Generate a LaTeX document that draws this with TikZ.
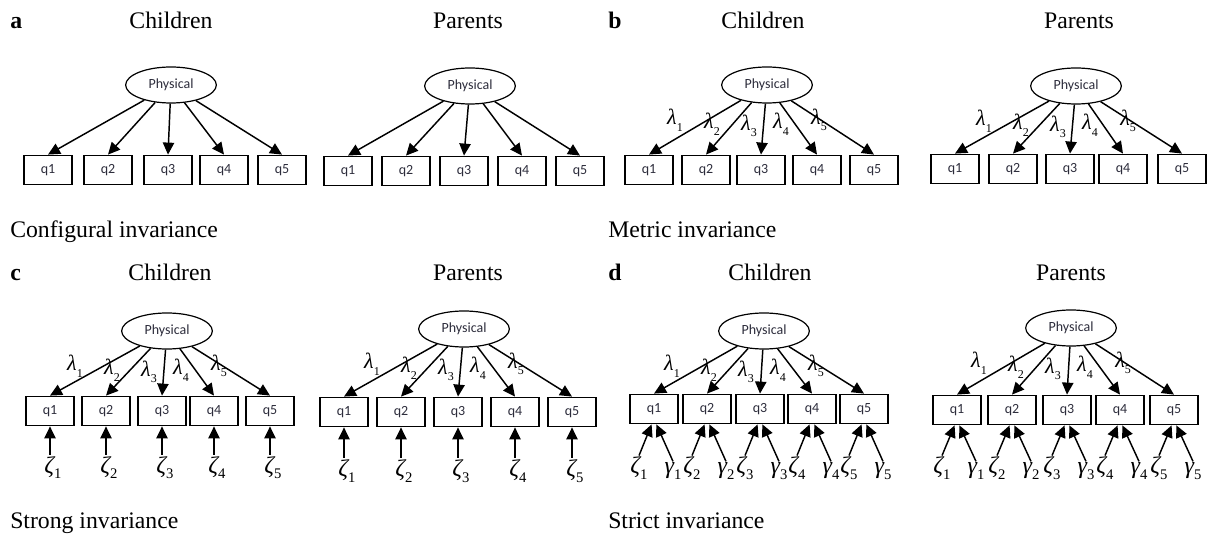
\documentclass[tikz,border=0pt]{standalone}
\usepackage{fontspec}
\setmainfont{Liberation Serif}
\newfontfamily\calibri{Carlito}
\usepackage{tikz}
\usetikzlibrary{arrows.meta,positioning,shapes.geometric}
\definecolor{inktext}{RGB}{45,45,60}
\newcommand{\lsub}[1]{\raisebox{-0.3em}{\fontsize{9}{9}\selectfont\upshape #1}}
\newcommand{\gsub}[1]{\raisebox{-0.25em}{\fontsize{11}{11}\selectfont\upshape #1}}

\begin{document}
\begin{tikzpicture}[x=0.75pt, y=-0.75pt,
  latent/.style={draw, ellipse, line width=0.9pt, minimum width=68pt, minimum height=27pt,
    inner sep=0pt, text=inktext, font=\calibri\fontsize{10.5}{11}\selectfont},
  item/.style={draw, line width=1.1pt, minimum width=36pt, minimum height=22pt,
    inner sep=0pt, text=inktext, font=\calibri\fontsize{10.5}{11}\selectfont},
  load/.style={-{Triangle[length=9pt,width=8.5pt]}, line width=1.1pt},
  loadlbl/.style={inner sep=0pt, font=\itshape\fontsize{16.5}{16}\selectfont},
  errlbl/.style={inner sep=1pt, anchor=base, font=\itshape\fontsize{18}{18}\selectfont},
  grouplbl/.style={anchor=base, font=\fontsize{17.8}{20}\selectfont},
  letter/.style={anchor=base west, inner sep=0pt, font=\bfseries\fontsize{17.8}{20}\selectfont},
  model/.style={anchor=base west, inner sep=0pt, font=\fontsize{17.8}{20}\selectfont}
]
\useasboundingbox (0,0) rectangle (1210,534);

% a: configural invariance
\node[letter] (tagA) at (10,29) {a};
\node[grouplbl] (aChild) at (171,29) {Children};
\node[grouplbl] (aParent) at (468,29) {Parents};
\node[model] (capA) at (10,238) {Configural invariance};
\node[latent] (aC) at (171,85) {Physical};
\foreach \x [count=\i] in {48,108,168,224,282}{
  \node[item] (aC\i) at (\x,170) {q\i};
  \draw[load] (aC) -- (aC\i.north);
}
\node[latent] (aP) at (470,86) {Physical};
\foreach \x [count=\i] in {348,406,464,522,580}{
  \node[item] (aP\i) at (\x,171) {q\i};
  \draw[load] (aP) -- (aP\i.north);
}

% b: metric invariance
\node[letter] (tagB) at (608,29) {b};
\node[grouplbl] (bChild) at (763,29) {Children};
\node[grouplbl] (bParent) at (1079,29) {Parents};
\node[model] (capB) at (608,238) {Metric invariance};
\node[latent] (bC) at (767,85) {Physical};
\foreach \x/\dx/\dy [count=\i] in {649/-92/35,706/-55/39,761/-18/41,817/14/39,874/52/35}{
  \node[item] (bC\i) at (\x,170) {q\i};
  \draw[load] (bC) -- (bC\i.north);
  \node[loadlbl] (bCl\i) at ([shift={(\dx,\dy)}]bC.center) {λ\lsub{\i}};
}
\node[latent] (bP) at (1076,86) {Physical};
\foreach \x/\dx/\dy [count=\i] in {955/-92/35,1013/-55/39,1070/-18/41,1123/14/39,1182/52/35}{
  \node[item] (bP\i) at (\x,169) {q\i};
  \draw[load] (bP) -- (bP\i.north);
  \node[loadlbl] (bPl\i) at ([shift={(\dx,\dy)}]bP.center) {λ\lsub{\i}};
}

% c: strong invariance
\node[letter] (tagC) at (10,281) {c};
\node[grouplbl] (cChild) at (170,281) {Children};
\node[grouplbl] (cParent) at (468,281) {Parents};
\node[model] (capC) at (10,528) {Strong invariance};
\node[latent] (cC) at (167,331) {Physical};
\foreach \x/\dx/\dy [count=\i] in {50/-92/35,106/-55/39,162/-18/41,214/14/39,270/52/35}{
  \node[item] (cC\i) at (\x,411) {q\i};
  \draw[load] (cC) -- (cC\i.north);
  \node[loadlbl] (cCl\i) at ([shift={(\dx,\dy)}]cC.center) {λ\lsub{\i}};
  \node[errlbl] (cCz\i) at (\x+3,473) {ζ\gsub{\i}};
  \draw[load] (cCz\i.north -| cC\i) -- (cC\i);
}
\node[latent] (cP) at (464,329) {Physical};
\foreach \x/\dx/\dy [count=\i] in {344/-92/35,401/-55/39,458/-18/41,515/14/39,572/52/35}{
  \node[item] (cP\i) at (\x,412) {q\i};
  \draw[load] (cP) -- (cP\i.north);
  \node[loadlbl] (cPl\i) at ([shift={(\dx,\dy)}]cP.center) {λ\lsub{\i}};
  \node[errlbl] (cPz\i) at (\x+3,476) {ζ\gsub{\i}};
  \draw[load] (cPz\i.north -| cP\i) -- (cP\i);
}

% d: strict invariance
\node[letter] (tagD) at (608,281) {d};
\node[grouplbl] (dChild) at (770,281) {Children};
\node[grouplbl] (dParent) at (1071,281) {Parents};
\node[model] (capD) at (608,528) {Strict invariance};
\node[latent] (dC) at (764,331) {Physical};
\foreach \x/\dx/\dy [count=\i] in {654/-92/35,707/-55/39,760/-18/41,812/14/39,864/52/35}{
  \node[item] (dC\i) at (\x,409) {q\i};
  \draw[load] (dC) -- (dC\i.north);
  \node[loadlbl] (dCl\i) at ([shift={(\dx,\dy)}]dC.center) {λ\lsub{\i}};
  \node[errlbl] (dCz\i) at (\x-15,474) {ζ\gsub{\i}};
  \node[errlbl] (dCg\i) at (\x+19,474) {γ\gsub{\i}};
  \draw[load] (dCz\i.north) -- ([xshift=-1.8pt]dC\i.south);
  \draw[load] (dCg\i.north) -- ([xshift=1.8pt]dC\i.south);
}
\node[latent] (dP) at (1071,328) {Physical};
\foreach \x/\dx/\dy [count=\i] in {957/-92/35,1012/-55/39,1067/-18/41,1120/14/39,1174/52/35}{
  \node[item] (dP\i) at (\x,410) {q\i};
  \draw[load] (dP) -- (dP\i.north);
  \node[loadlbl] (dPl\i) at ([shift={(\dx,\dy)}]dP.center) {λ\lsub{\i}};
  \node[errlbl] (dPz\i) at (\x-15,474) {ζ\gsub{\i}};
  \node[errlbl] (dPg\i) at (\x+19,474) {γ\gsub{\i}};
  \draw[load] (dPz\i.north) -- ([xshift=-1.8pt]dP\i.south);
  \draw[load] (dPg\i.north) -- ([xshift=1.8pt]dP\i.south);
}
\end{tikzpicture}
\end{document}
